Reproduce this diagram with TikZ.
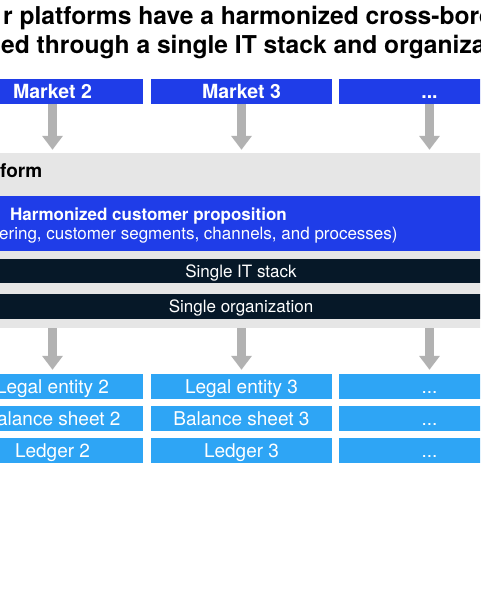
\documentclass[tikz,border=0pt]{standalone}
\usepackage{fontspec}
\setmainfont{TeX Gyre Heros}
\usetikzlibrary{arrows.meta}

\definecolor{mktblue}{RGB}{31,61,232}
\definecolor{entblue}{RGB}{46,165,245}
\definecolor{stacknavy}{RGB}{6,24,40}
\definecolor{platgray}{RGB}{230,230,230}
\definecolor{flowgray}{RGB}{178,178,178}

\begin{document}
\begin{tikzpicture}[
      x=1pt, y=-1pt,
      market/.style={rectangle,
                     fill=mktblue,
                     minimum width=181pt,
                     minimum height=25pt,
                     inner sep=0pt,
                     text=white,
                     text height=14pt,
                     text depth=0pt,
                     font=\fontsize{19.5}{22}\selectfont\bfseries},
      entity/.style={rectangle,
                     fill=entblue,
                     minimum width=181pt,
                     minimum height=25pt,
                     inner sep=0pt,
                     text=white,
                     text height=13.7pt,
                     text depth=0pt,
                     font=\fontsize{19}{22}\selectfont},
      band/.style={rectangle,
                   fill=stacknavy,
                   minimum width=1000pt,
                   minimum height=24.5pt,
                   inner sep=0pt,
                   text=white,
                   text height=12.2pt,
                   text depth=0pt,
                   font=\fontsize{17}{20}\selectfont},
      flow/.style={line width=9pt,
                   draw=flowgray,
                   -{Triangle[width=20pt,length=14pt]}}
    ]

    \useasboundingbox (0,0) rectangle (480,605);
    \clip (0,0) rectangle (480,605);
    \fill[white] (0,0) rectangle (480,605);

    % title
    \draw (3,24.3)
          node[anchor=base west, inner sep=0pt,
               font=\fontsize{24.6}{28}\selectfont\bfseries]
          (title1)
          {r platforms have a harmonized cross-bord};
    \draw (1,53.3)
          node[anchor=base west, inner sep=0pt,
               font=\fontsize{24.6}{28}\selectfont\bfseries]
          (title2)
          {ed through a single IT stack and organizat};

    % markets
    \draw (52.5,91.5)  node[market] (m2) {Market 2};
    \draw (241.5,91.5) node[market] (m3) {Market 3};
    \draw (429.5,91.5) node[market] (m4) {...};

    % platform
    \draw (240,240.5)
          node[rectangle, fill=platgray, minimum width=1000pt,
               minimum height=175pt]
          (platform) {};
    \draw (0,177)
          node[anchor=base west, inner sep=0pt,
               font=\fontsize{19}{22}\selectfont\bfseries]
          (platlabel)
          {form};
    \draw (240,223.5)
          node[rectangle, fill=mktblue, minimum width=1000pt,
               minimum height=55pt]
          (proposition) {};
    \draw (10,220)
          node[anchor=base west, inner sep=0pt, text=white,
               font=\fontsize{17}{20}\selectfont\bfseries]
          (proptitle)
          {Harmonized customer proposition};
    \draw (-1,239.5)
          node[anchor=base west, inner sep=0pt, text=white,
               font=\fontsize{17}{20}\selectfont]
          (propdetail)
          {ering, customer segments, channels, and processes)};
    \draw (241,271)   node[band] (itstack) {Single IT stack};
    \draw (241,306.5) node[band] (org) {Single organization};

    % entities
    \draw (52.5,386.5)  node[entity] (le2) {Legal entity 2};
    \draw (241.5,386.5) node[entity] (le3) {Legal entity 3};
    \draw (429.5,386.5) node[entity] (le4) {...};
    \draw (52.5,418.5)  node[entity] (bs2) {Balance sheet 2};
    \draw (241.5,418.5) node[entity] (bs3) {Balance sheet 3};
    \draw (429.5,418.5) node[entity] (bs4) {...};
    \draw (52.5,450.5)  node[entity] (ld2) {Ledger 2};
    \draw (241.5,450.5) node[entity] (ld3) {Ledger 3};
    \draw (429.5,450.5) node[entity] (ld4) {...};

    % arrows
    \draw [flow, shorten >=3pt] (m2.south) to (m2.south |- platform.north);
    \draw [flow, shorten >=3pt] (m3.south) to (m3.south |- platform.north);
    \draw [flow, shorten >=3pt] (m4.south) to (m4.south |- platform.north);
    \draw [flow, shorten >=4pt] (le2.north |- platform.south) to (le2.north);
    \draw [flow, shorten >=4pt] (le3.north |- platform.south) to (le3.north);
    \draw [flow, shorten >=4pt] (le4.north |- platform.south) to (le4.north);

\end{tikzpicture}
\end{document}
